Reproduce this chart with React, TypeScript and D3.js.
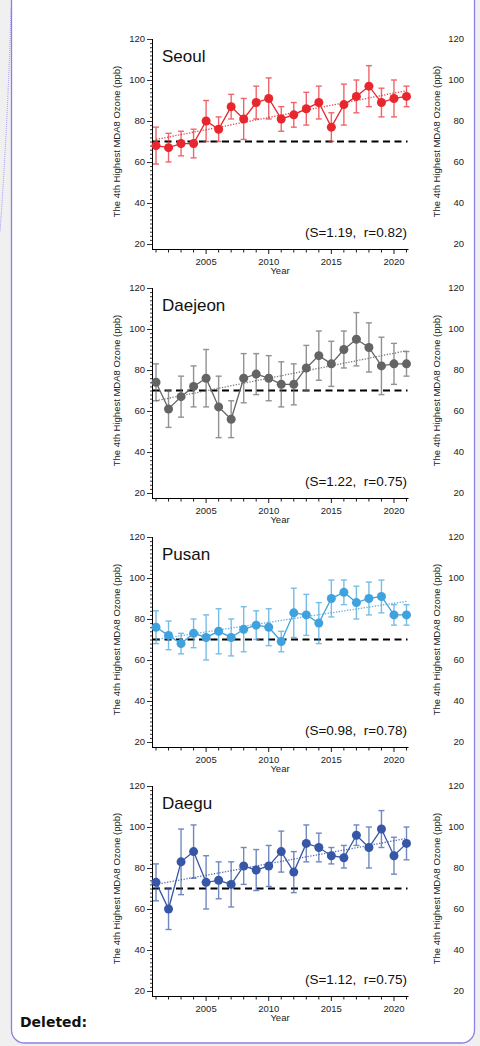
import React, { useEffect, useRef } from 'react'
import * as d3 from 'd3'

const years = d3.range(2001, 2022)
const cityNames = ['Seoul', 'Daejeon', 'Pusan', 'Daegu']
const cityColors = ['#e8262d', '#646464', '#3fa2de', '#3656a8']
const cityStats = ['(S=1.19,  r=0.82)', '(S=1.22,  r=0.75)', '(S=0.98,  r=0.78)', '(S=1.12,  r=0.75)']

const seoulMean = [68, 67, 69, 69, 80, 76, 87, 81, 89, 91, 81, 83, 86, 89, 77, 88, 92, 97, 89, 91, 92]
const seoulLow = [59, 60, 63, 62, 70, 70, 81, 71, 81, 81, 75, 77, 78, 81, 70, 78, 84, 87, 82, 82, 87]
const seoulHigh = [77, 74, 75, 76, 90, 82, 93, 91, 97, 101, 87, 89, 94, 97, 84, 98, 100, 107, 96, 100, 97]

const daejeonMean = [74, 61, 67, 72, 76, 62, 56, 76, 78, 76, 73, 73, 81, 87, 83, 90, 95, 91, 82, 83, 83]
const daejeonLow = [65, 52, 57, 62, 62, 47, 47, 64, 68, 65, 62, 63, 70, 75, 72, 81, 82, 79, 68, 73, 77]
const daejeonHigh = [83, 70, 77, 82, 90, 77, 65, 88, 88, 87, 84, 83, 92, 99, 94, 99, 108, 103, 96, 93, 89]

const pusanMean = [76, 72, 68, 73, 71, 74, 71, 75, 77, 76, 69, 83, 82, 78, 90, 93, 88, 90, 91, 82, 82]
const pusanLow = [68, 65, 63, 66, 60, 63, 62, 64, 70, 67, 64, 71, 72, 68, 81, 87, 80, 82, 83, 77, 77]
const pusanHigh = [84, 79, 73, 80, 82, 85, 80, 86, 84, 85, 74, 95, 92, 88, 99, 99, 96, 98, 99, 87, 87]

const daeguMean = [73, 60, 83, 88, 73, 74, 72, 81, 79, 81, 88, 78, 92, 90, 86, 85, 96, 90, 99, 86, 92]
const daeguLow = [64, 50, 67, 75, 60, 65, 61, 72, 69, 71, 78, 68, 83, 83, 82, 80, 91, 80, 90, 77, 84]
const daeguHigh = [82, 70, 99, 101, 86, 83, 83, 90, 89, 91, 98, 88, 101, 97, 90, 91, 101, 100, 108, 95, 100]

// dotted trend line ends (2001, 2021)
const trendEnds = [[71, 94.8], [65, 89.4], [70, 88.6], [72, 94.4]]

const yTicks = [20, 40, 60, 80, 100, 120]
const xTicks = [2005, 2010, 2015, 2020]

const cityMeans = [seoulMean, daejeonMean, pusanMean, daeguMean]
const cityLows = [seoulLow, daejeonLow, pusanLow, daeguLow]
const cityHighs = [seoulHigh, daejeonHigh, pusanHigh, daeguHigh]

const font = '"Liberation Sans", Arial, Helvetica, sans-serif'

export default function App() {
  const ref = useRef<SVGSVGElement>(null)

  useEffect(() => {
    const svg = d3.select(ref.current)
    svg.selectAll('*').remove()

    svg.append('rect').attr('width', 480).attr('height', 1046).attr('fill', '#f0f0f0')
    svg.append('path')
      .attr('d', 'M11,8 Q8,120 0,232')
      .attr('fill', 'none')
      .attr('stroke', '#9d94ea')
      .attr('stroke-width', 1)
      .attr('stroke-dasharray', '1,1')
    svg.append('rect')
      .attr('x', 11.5).attr('y', -12).attr('width', 463).attr('height', 1055)
      .attr('rx', 13)
      .attr('fill', '#ffffff')
      .attr('stroke', '#8b80e6')
      .attr('stroke-width', 1.3)

    svg.append('defs').append('clipPath').attr('id', 'frameclip')
      .append('rect').attr('x', 0).attr('y', 0).attr('width', 470).attr('height', 1046)

    const x = d3.scaleLinear().domain([2000.68, 2021.12]).range([152, 408])

    cityNames.forEach((name, i) => {
      const top = 39 + i * 249
      const y = d3.scaleLinear().domain([20, 120]).range([top + 205, top])
      const axisY = top + 210
      const color = cityColors[i]
      const g = svg.append('g').attr('clip-path', 'url(#frameclip)')

      // y axis
      g.append('line')
        .attr('x1', 152.5).attr('x2', 152.5).attr('y1', top).attr('y2', axisY)
        .attr('stroke', '#000').attr('stroke-width', 1)
      g.selectAll('.ymin').data(d3.range(20, 121, 2)).enter().append('line')
        .attr('x1', d => (d % 20 === 0 ? 147 : 150)).attr('x2', 152.5)
        .attr('y1', d => y(d) + 0.5).attr('y2', d => y(d) + 0.5)
        .attr('stroke', '#000').attr('stroke-width', 0.8)
      g.selectAll('.ylab').data(yTicks).enter().append('text')
        .attr('x', 145).attr('y', d => y(d) + 3.3)
        .attr('text-anchor', 'end')
        .attr('font-family', font).attr('font-size', 9.5).attr('fill', '#222')
        .text(d => d)

      // x axis
      g.append('line')
        .attr('x1', 152).attr('x2', 408.5).attr('y1', axisY + 0.5).attr('y2', axisY + 0.5)
        .attr('stroke', '#000').attr('stroke-width', 1)
      g.selectAll('.xmin').data(years).enter().append('line')
        .attr('x1', d => x(d)).attr('x2', d => x(d))
        .attr('y1', axisY).attr('y2', d => axisY + (d % 5 === 0 ? 5 : 3.5))
        .attr('stroke', '#000').attr('stroke-width', 0.9)
      g.selectAll('.xlab').data(xTicks).enter().append('text')
        .attr('x', d => x(d)).attr('y', axisY + 16)
        .attr('text-anchor', 'middle')
        .attr('font-family', font).attr('font-size', 9.5).attr('fill', '#222')
        .text(d => d)
      g.append('text')
        .attr('x', 280).attr('y', top + 235)
        .attr('text-anchor', 'middle')
        .attr('font-family', font).attr('font-size', 9.5).attr('fill', '#222')
        .text('Year')

      // y label
      g.append('text')
        .attr('transform', `translate(119.5, ${y(70)}) rotate(-90)`)
        .attr('text-anchor', 'middle')
        .attr('font-family', font).attr('font-size', 9.5).attr('fill', '#222')
        .text('The 4th Highest MDA8 Ozone (ppb)')

      // cut-off neighbouring panel axis on the right
      g.selectAll('.rlab').data(yTicks).enter().append('text')
        .attr('x', 464).attr('y', d => y(d) + 3.3)
        .attr('text-anchor', 'end')
        .attr('font-family', font).attr('font-size', 9.5).attr('fill', '#222')
        .text(d => d)
      g.append('text')
        .attr('transform', `translate(439.5, ${y(70)}) rotate(-90)`)
        .attr('text-anchor', 'middle')
        .attr('font-family', font).attr('font-size', 9.5).attr('fill', '#222')
        .text('The 4th Highest MDA8 Ozone (ppb)')

      // 70 ppb standard
      g.append('line')
        .attr('x1', 153).attr('x2', x(2021) + 1).attr('y1', y(70)).attr('y2', y(70))
        .attr('stroke', '#000').attr('stroke-width', 2)
        .attr('stroke-dasharray', '7,4.5')

      // trend
      g.append('line')
        .attr('x1', x(2001)).attr('x2', x(2021))
        .attr('y1', y(trendEnds[i][0])).attr('y2', y(trendEnds[i][1]))
        .attr('stroke', color).attr('stroke-width', 1.3)
        .attr('stroke-dasharray', '1.3,1.5')
        .attr('opacity', 0.85)

      // error bars
      const rows = years.map((yr, k) => ({ yr, m: cityMeans[i][k], lo: cityLows[i][k], hi: cityHighs[i][k] }))
      const eb = g.append('g').attr('stroke', color).attr('stroke-width', 1.4).attr('opacity', 0.7)
      eb.selectAll('.v').data(rows).enter().append('line')
        .attr('x1', d => x(d.yr)).attr('x2', d => x(d.yr))
        .attr('y1', d => y(d.lo)).attr('y2', d => y(d.hi))
      eb.selectAll('.cl').data(rows).enter().append('line')
        .attr('x1', d => x(d.yr) - 3).attr('x2', d => x(d.yr) + 3)
        .attr('y1', d => y(d.lo)).attr('y2', d => y(d.lo))
      eb.selectAll('.ch').data(rows).enter().append('line')
        .attr('x1', d => x(d.yr) - 3).attr('x2', d => x(d.yr) + 3)
        .attr('y1', d => y(d.hi)).attr('y2', d => y(d.hi))

      // series line and markers
      const line = d3.line<{ yr: number; m: number }>().x(d => x(d.yr)).y(d => y(d.m))
      g.append('path').datum(rows)
        .attr('d', line)
        .attr('fill', 'none').attr('stroke', color).attr('stroke-width', 1.3)
      g.selectAll('.pt').data(rows).enter().append('circle')
        .attr('cx', d => x(d.yr)).attr('cy', d => y(d.m)).attr('r', 4.5)
        .attr('fill', color)

      g.append('text')
        .attr('x', 162).attr('y', top + 23)
        .attr('font-family', font).attr('font-size', 17).attr('fill', '#111')
        .text(name)
      g.append('text')
        .attr('x', 407).attr('y', top + 198)
        .attr('text-anchor', 'end')
        .attr('font-family', font).attr('font-size', 13.5).attr('fill', '#111')
        .style('white-space', 'pre')
        .text(cityStats[i])
    })

    svg.append('text')
      .attr('x', 20).attr('y', 1027)
      .attr('font-family', '"DejaVu Sans", sans-serif').attr('font-weight', 'bold')
      .attr('font-size', 14).attr('fill', '#111')
      .text('Deleted:')
  }, [])

  return (
    <div style={{ position: 'absolute', left: 0, top: 0 }}>
      <svg ref={ref} width={480} height={1046} style={{ display: 'block' }} />
    </div>
  )
}
